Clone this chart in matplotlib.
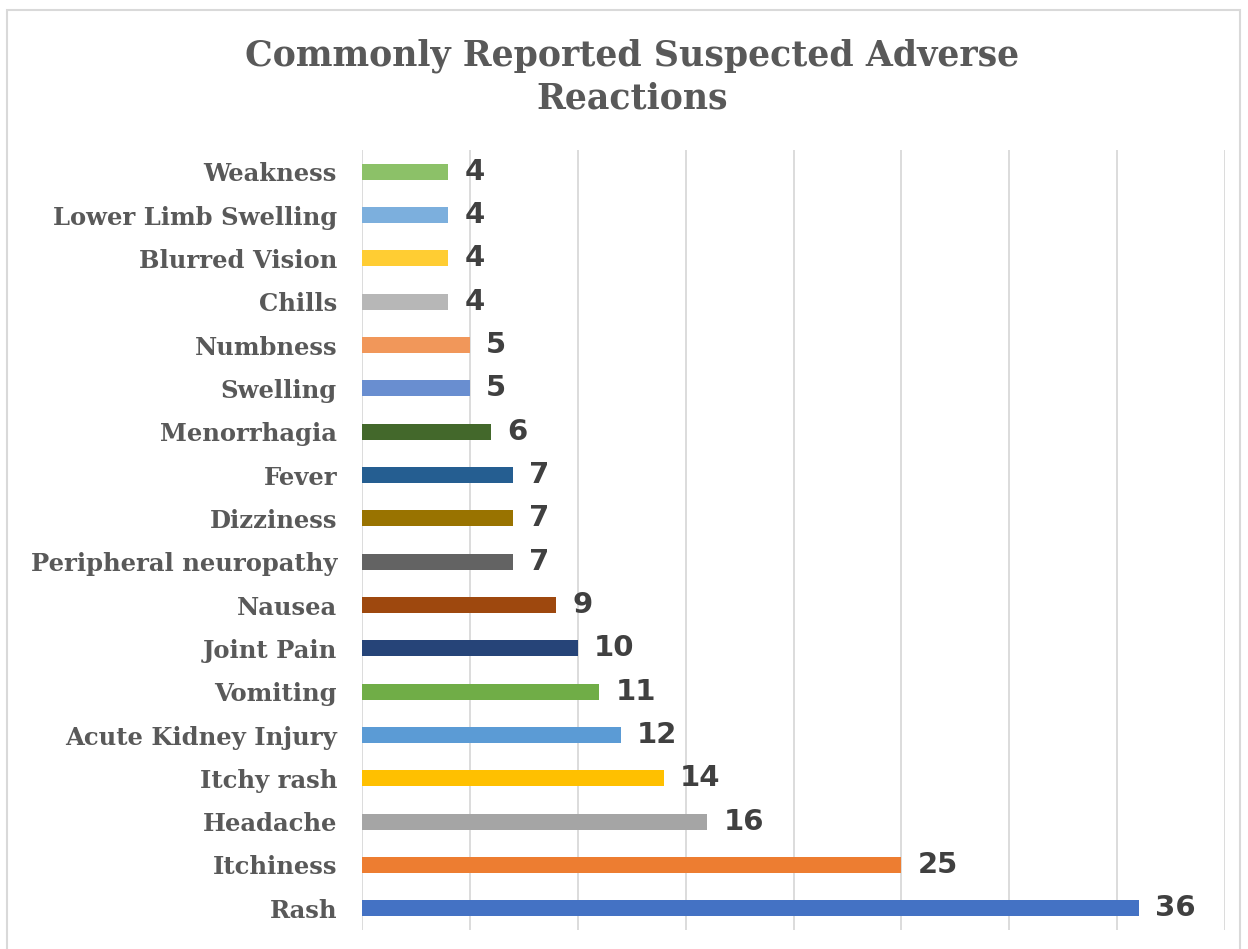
import numpy as np
import matplotlib.pyplot as plt
from matplotlib.patches import Rectangle

# Reactions, listed bottom to top
reactions = ["Rash", "Itchiness", "Headache", "Itchy rash", "Acute Kidney Injury",
             "Vomiting", "Joint Pain", "Nausea", "Peripheral neuropathy", "Dizziness",
             "Fever", "Menorrhagia", "Swelling", "Numbness", "Chills",
             "Blurred Vision", "Lower Limb Swelling", "Weakness"]
counts = [36, 25, 16, 14, 12, 11, 10, 9, 7, 7, 7, 6, 5, 5, 4, 4, 4, 4]
bar_colors = ["#4472C4", "#ED7D31", "#A5A5A5", "#FFC000", "#5B9BD5",
              "#70AD47", "#264478", "#9E480E", "#636363", "#997300",
              "#255E91", "#43682B", "#698ED0", "#F1975A", "#B7B7B7",
              "#FFCD33", "#7CAFDD", "#8CC168"]

fig = plt.figure(figsize=(12.48, 9.49), dpi=100)
ax = fig.add_axes([362 / 1248, 1 - 930 / 949, (1225 - 362) / 1248, (930 - 150) / 949])

y = np.arange(len(reactions))
ax.barh(y, counts, height=0.37, color=bar_colors, zorder=3)

for yi, c in zip(y, counts):
    ax.text(c + 0.75, yi, str(c), va="center", ha="left", fontsize=21,
            fontweight="bold", family="DejaVu Sans", color="#404040")

ax.set_xlim(0, 40)
ax.set_ylim(-0.5, len(reactions) - 0.5)
ax.set_xticks(np.arange(0, 41, 5))
ax.set_xticklabels([])
ax.set_yticks(y)
ax.set_yticklabels(reactions, fontsize=17.5, fontweight="bold", family="DejaVu Serif",
                   color="#595959")
ax.tick_params(axis="both", length=0, pad=18)
ax.grid(axis="x", color="#D9D9D9", linewidth=1.3, zorder=0)
for s in ax.spines.values():
    s.set_visible(False)

fig.text(632 / 1248, 1 - 77 / 949, "Commonly Reported Suspected Adverse\nReactions",
         ha="center", va="center", fontsize=25, fontweight="bold", family="DejaVu Serif",
         color="#595959", linespacing=1.3)

# light frame around the chart area
fig.patches.append(Rectangle((7 / 1248, -0.01), (1240 - 7) / 1248, 1 - 10 / 949 + 0.01,
                             transform=fig.transFigure, fill=False,
                             edgecolor="#D9D9D9", linewidth=1.5))

fig.savefig("out.png", dpi=100)
